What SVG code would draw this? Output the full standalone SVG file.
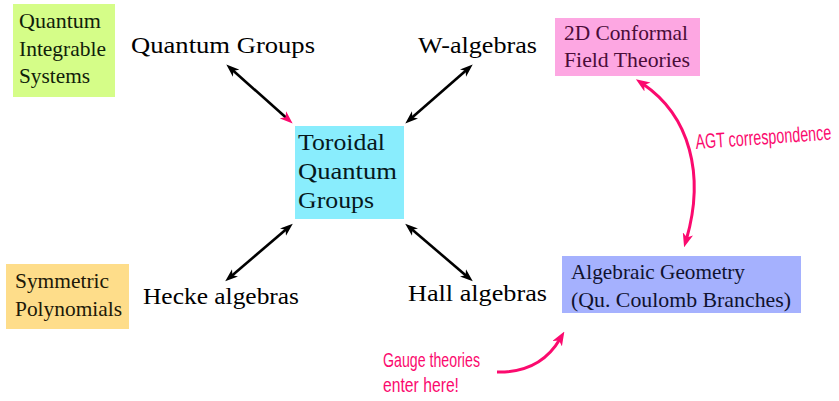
<svg xmlns="http://www.w3.org/2000/svg" width="839" height="401" viewBox="0 0 839 401">
<style>
.lbl{font-family:"Liberation Serif","Times New Roman",serif;font-size:24px;fill:#000}
.bx{font-family:"Liberation Serif","Times New Roman",serif;font-size:21px}
.big{font-size:24px}
.hand{font-family:"Liberation Sans",Arial,sans-serif;font-size:14.5px;fill:#fb0a6e}
.bl{fill:none;stroke:#000;stroke-width:2.6}
.pk{fill:none;stroke:#fb0a6e;stroke-width:3}
</style>
<defs>
<marker id="ab" markerUnits="userSpaceOnUse" markerWidth="13" markerHeight="11" refX="4" refY="4" orient="auto-start-reverse" viewBox="0 0 11 8">
<path d="M0,0 L11,4 L0,8 L3,4 z" fill="#000"/>
</marker>
<marker id="ap" markerUnits="userSpaceOnUse" markerWidth="13" markerHeight="11" refX="4" refY="4" orient="auto-start-reverse" viewBox="0 0 11 8">
<path d="M0,0 L11,4 L0,8 L3,4 z" fill="#fb0a6e"/>
</marker>
<marker id="ap2" markerUnits="userSpaceOnUse" markerWidth="14" markerHeight="11" refX="5" refY="5" orient="auto-start-reverse" viewBox="0 0 13 10">
<path d="M0,0 L13,5 L0,10 L3.5,5 z" fill="#fb0a6e"/>
</marker>
</defs>

<g id="qis">
<rect x="13" y="4" width="102" height="93" fill="#d5fd88"/>
<text class="bx" fill="#10200a"><tspan x="19" y="28" textLength="82" lengthAdjust="spacingAndGlyphs">Quantum</tspan><tspan x="19" y="56" textLength="87" lengthAdjust="spacingAndGlyphs">Integrable</tspan><tspan x="19" y="83" textLength="71" lengthAdjust="spacingAndGlyphs">Systems</tspan></text>
</g>

<g id="qg">
<text class="lbl" x="131" y="53" textLength="184" lengthAdjust="spacingAndGlyphs">Quantum Groups</text>
</g>

<g id="walg">
<text class="lbl" x="418" y="53" textLength="119" lengthAdjust="spacingAndGlyphs">W-algebras</text>
</g>

<g id="cft">
<rect x="555" y="18" width="145" height="58" fill="#fda7e2"/>
<text class="bx" fill="#4a0c38"><tspan x="564" y="40" textLength="124" lengthAdjust="spacingAndGlyphs">2D Conformal</tspan><tspan x="564" y="67" textLength="126" lengthAdjust="spacingAndGlyphs">Field Theories</tspan></text>
</g>

<g id="tqg">
<rect x="295" y="126" width="109" height="93" fill="#89edfd"/>
<text class="bx big" fill="#06181c"><tspan x="298" y="150" textLength="87" lengthAdjust="spacingAndGlyphs">Toroidal</tspan><tspan x="298" y="179" textLength="99" lengthAdjust="spacingAndGlyphs">Quantum</tspan><tspan x="298" y="208" textLength="76" lengthAdjust="spacingAndGlyphs">Groups</tspan></text>
</g>

<g id="sym">
<rect x="6" y="264" width="123" height="65" fill="#fedd8a"/>
<text class="bx" fill="#201808"><tspan x="15" y="288" textLength="94" lengthAdjust="spacingAndGlyphs">Symmetric</tspan><tspan x="15" y="316" textLength="107" lengthAdjust="spacingAndGlyphs">Polynomials</tspan></text>
</g>

<g id="hecke">
<text class="lbl" x="143" y="304" textLength="156" lengthAdjust="spacingAndGlyphs">Hecke algebras</text>
</g>

<g id="hall">
<text class="lbl" x="408" y="301" textLength="139" lengthAdjust="spacingAndGlyphs">Hall algebras</text>
</g>

<g id="ag">
<rect x="562" y="256" width="239" height="57" fill="#a5b1fe"/>
<text class="bx" fill="#10122e"><tspan x="571" y="279" textLength="174" lengthAdjust="spacingAndGlyphs">Algebraic Geometry</tspan><tspan x="571" y="307" textLength="220" lengthAdjust="spacingAndGlyphs">(Qu. Coulomb Branches)</tspan></text>
</g>

<g id="gauge">
<text class="hand" transform="translate(383 367) scale(1 1.45)" x="0" y="0" textLength="97" lengthAdjust="spacingAndGlyphs">Gauge theories</text>
<text class="hand" transform="translate(383 392) scale(1 1.45)" x="0" y="0" textLength="76" lengthAdjust="spacingAndGlyphs">enter here!</text>
</g>

<g id="connectors">
<line class="bl" x1="232.5" y1="70" x2="286.5" y2="118" marker-start="url(#ab)" marker-end="url(#ap)"/>
<line class="bl" x1="466.5" y1="70" x2="411.5" y2="118" marker-start="url(#ab)" marker-end="url(#ab)"/>
<line class="bl" x1="286.5" y1="229" x2="231.5" y2="276" marker-start="url(#ab)" marker-end="url(#ab)"/>
<line class="bl" x1="411.5" y1="229" x2="466.5" y2="276" marker-start="url(#ab)" marker-end="url(#ab)"/>
<path class="pk" d="M643,84 C690,116 705,175 686.5,239" marker-start="url(#ap2)" marker-end="url(#ap2)"/>
<text class="hand" transform="translate(696 149) rotate(-4) scale(1 1.45)" x="0" y="0" textLength="136" lengthAdjust="spacingAndGlyphs">AGT correspondence</text>
<path class="pk" d="M497,372 Q540,373 560,339" marker-end="url(#ap2)"/>
</g>
</svg>
